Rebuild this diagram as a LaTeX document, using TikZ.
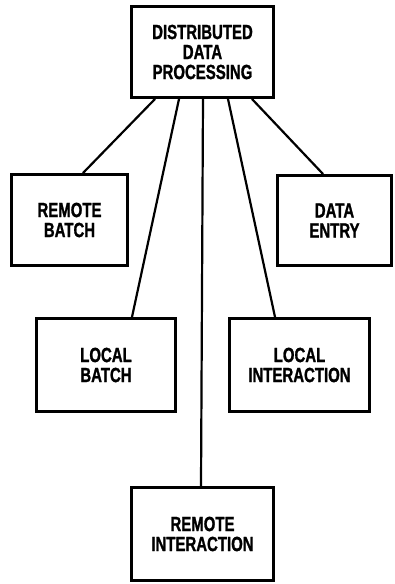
\documentclass[tikz,border=0pt]{standalone}
\usepackage{fontspec}
\newfontfamily\boxfont{Liberation Sans Bold}[FakeStretch=0.73,FakeBold=1.2]
\usepackage{tikz}
\usetikzlibrary{positioning}

\begin{document}
\begin{tikzpicture}
	[x=1pt,y=-1pt,
	box/.style={draw,line width=3pt,rectangle,align=center,
		font=\fontsize{20.5}{20}\boxfont,inner sep=0pt},
	link/.style={line width=2.2pt}]
	\useasboundingbox (0,0) rectangle (394,584);
	% boxes
	\node[box,minimum width=142pt,minimum height=91pt] (ddp) at (202.5,52) {DISTRIBUTED\\DATA\\PROCESSING};
	\node[box,minimum width=116pt,minimum height=91pt] (rbatch) at (69.5,220) {REMOTE\\BATCH};
	\node[box,minimum width=114pt,minimum height=90pt] (entry) at (334.5,220.5) {DATA\\ENTRY};
	\node[box,minimum width=139pt,minimum height=93pt] (lbatch) at (106,365) {LOCAL\\BATCH};
	\node[box,minimum width=140pt,minimum height=93pt] (linter) at (299.5,365) {LOCAL\\INTERACTION};
	\node[box,minimum width=142pt,minimum height=93pt] (rinter) at (202.5,534) {REMOTE\\INTERACTION};
	% connectors
	\draw[link] ([xshift=-47.5pt]ddp.south) -- ([xshift=13.5pt]rbatch.north);
	\draw[link] ([xshift=-23.5pt]ddp.south) -- ([xshift=26pt]lbatch.north);
	\draw[link] ([xshift=0.5pt]ddp.south) -- ([xshift=-1.5pt]rinter.north);
	\draw[link] ([xshift=25.5pt]ddp.south) -- ([xshift=-24.5pt]linter.north);
	\draw[link] ([xshift=49.5pt]ddp.south) -- ([xshift=-11.5pt]entry.north);
\end{tikzpicture}
\end{document}
